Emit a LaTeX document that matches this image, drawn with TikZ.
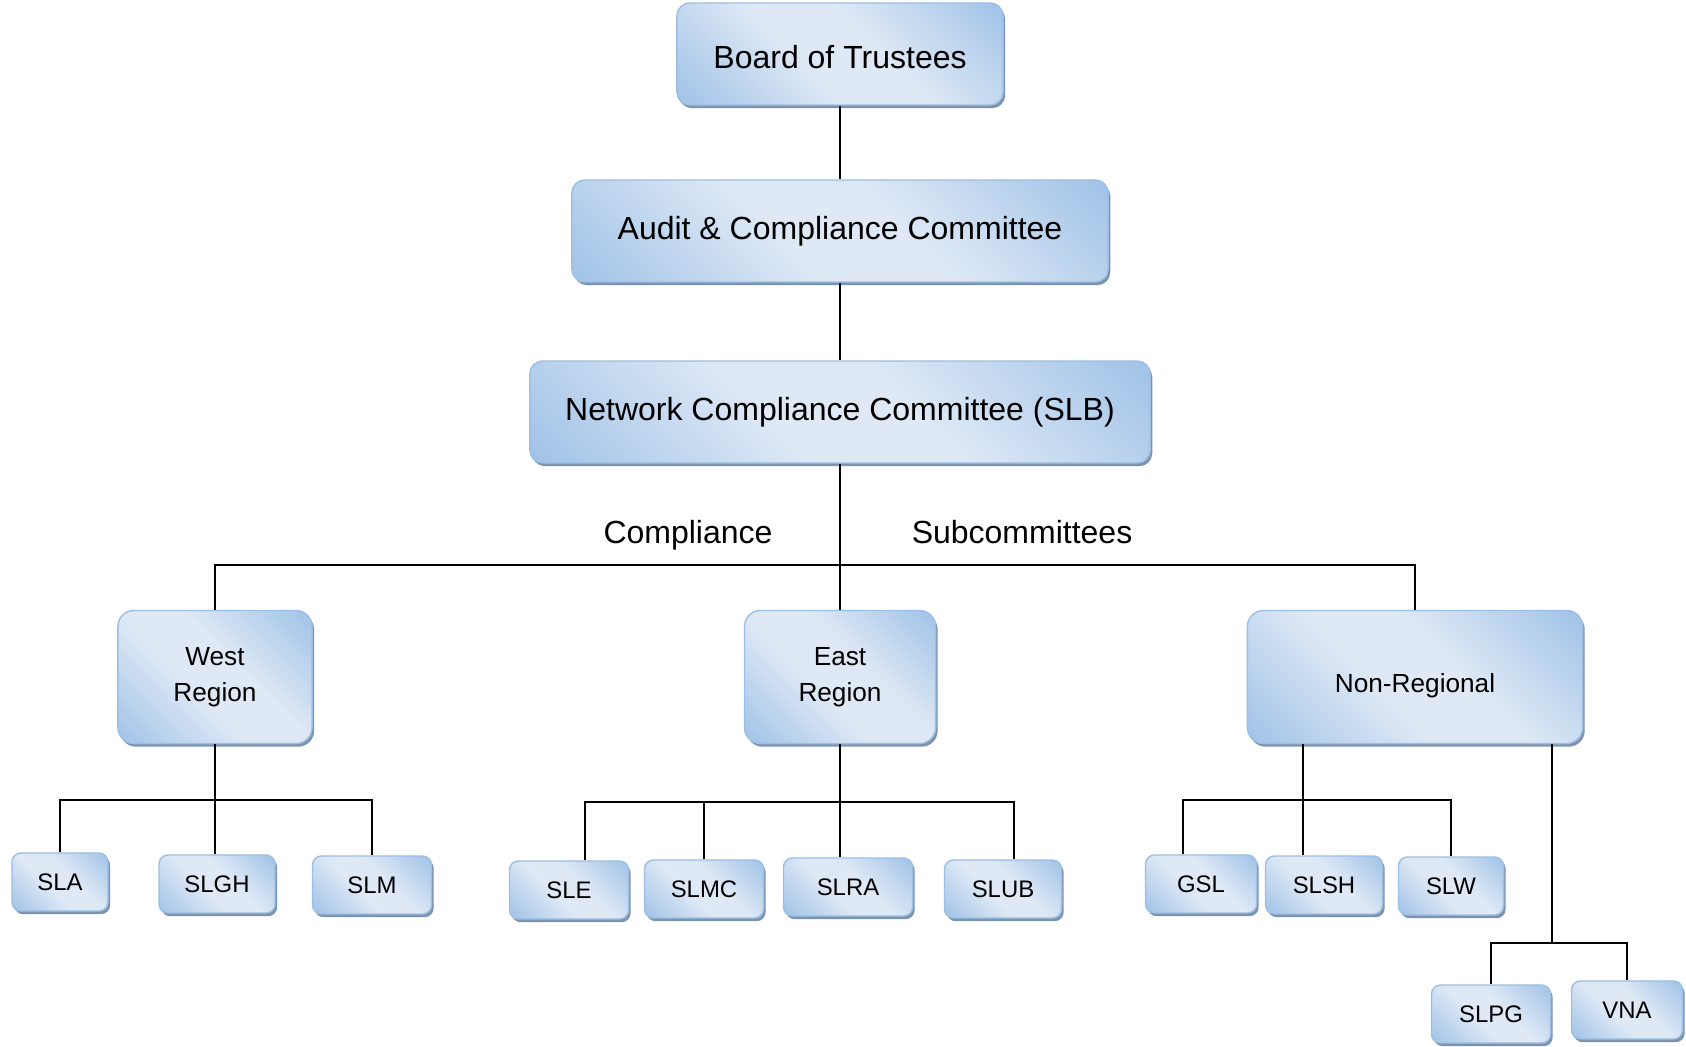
\documentclass[tikz,border=0pt]{standalone}
\usepackage{fontspec}
\setmainfont{Liberation Sans}
\usetikzlibrary{shadows}
\definecolor{boxdark}{HTML}{9CC0E6}
\definecolor{boxlight}{HTML}{DFE9F6}
\definecolor{boxedge}{HTML}{9CBFE3}
\definecolor{boxshadow}{HTML}{7C93AE}
\pgfdeclareverticalshading{orgshade}{100bp}{color(0bp)=(boxdark); color(13bp)=(boxdark);
	color(43bp)=(boxlight); color(57bp)=(boxlight); color(87bp)=(boxdark); color(100bp)=(boxdark)}
\begin{document}
\begin{tikzpicture}[
			x=0.01cm, y=-0.01cm,
			orgbox/.style={rectangle, rounded corners=1.3mm, draw=boxedge, line width=0.4pt,
					shading=orgshade, shading angle=-45,
					drop shadow={shadow xshift=0.6pt, shadow yshift=-0.9pt, fill=boxshadow, opacity=1},
					inner sep=0pt, align=center},
			topbox/.style={orgbox, minimum height=10.2mm, font=\fontsize{9.1}{11}\selectfont},
			regionbox/.style={orgbox, rounded corners=1.6mm, minimum height=13.3mm, font=\fontsize{7.45}{10.1}\selectfont},
			subbox/.style={orgbox, rounded corners=0.9mm, minimum height=5.8mm, font=\fontsize{6.8}{8}\selectfont},
			link/.style={draw=black, line width=0.65pt}
		]
		\useasboundingbox (0,0) rectangle (1686,1046);
		% top of the chart
		\node[topbox, minimum width=32.6mm] (board) at (840,54) {\raisebox{-0.3mm}[\height][\depth]{Board of Trustees}};
		\node[topbox, minimum width=53.6mm] (audit) at (840,231) {Audit \& Compliance Committee};
		\node[topbox, minimum width=62mm] (network) at (840,412) {Network Compliance Committee (SLB)};
		\node[font=\fontsize{9.1}{11}\selectfont, anchor=base] (lblcomp) at (688,543) {Compliance};
		\node[font=\fontsize{9.1}{11}\selectfont, anchor=base] (lblsub) at (1022,543) {Subcommittees};
		% regions
		\node[regionbox, minimum width=19.4mm] (west) at (215,677) {West\\Region};
		\node[regionbox, minimum width=19.1mm] (east) at (840,677) {East\\Region};
		\node[regionbox, minimum width=33.5mm] (nonreg) at (1415,677) {\raisebox{-0.9mm}[\height][\depth]{Non-Regional}};
		% subcommittees
		\node[subbox, minimum width=9.6mm] (sla) at (60,882) {SLA};
		\node[subbox, minimum width=11.6mm] (slgh) at (217,884) {SLGH};
		\node[subbox, minimum width=11.9mm] (slm) at (372,885) {SLM};
		\node[subbox, minimum width=11.9mm] (sle) at (569,890) {SLE};
		\node[subbox, minimum width=11.9mm] (slmc) at (704,889) {SLMC};
		\node[subbox, minimum width=12.9mm] (slra) at (848,887) {SLRA};
		\node[subbox, minimum width=11.7mm] (slub) at (1003,889) {SLUB};
		\node[subbox, minimum width=11.1mm] (gsl) at (1201,884) {GSL};
		\node[subbox, minimum width=11.7mm] (slsh) at (1324,885) {SLSH};
		\node[subbox, minimum width=10.5mm] (slw) at (1451,886) {SLW};
		\node[subbox, minimum width=11.9mm] (slpg) at (1491,1014) {SLPG};
		\node[subbox, minimum width=11.1mm] (vna) at (1627,1010) {VNA};
		% bus points
		\coordinate (topbus) at (840,565);
		\coordinate (westbus) at (215,800);
		\coordinate (eastbus) at (840,802);
		\coordinate (nrbus) at (1303,800);
		\coordinate (nrbustwo) at (1552,943);
		% connectors
		\draw[link] (board) -- (audit);
		\draw[link] (audit) -- (network);
		\draw[link] (network) -- (east);
		\draw[link] (west.north) |- (topbus) -| (nonreg.north);
		\draw[link] (west.south) -- (west.south |- slgh.north);
		\draw[link] (sla.north) |- (westbus) -| (slm.north);
		\draw[link] (east.south) -- (east.south |- slra.north);
		\draw[link] ([xshift=1.6mm]sle.north) |- (eastbus) -| ([xshift=1.1mm]slub.north);
		\draw[link] (slmc.north) -- (slmc.north |- eastbus);
		\draw[link] (nrbus |- nonreg.south) -- (nrbus |- slsh.north);
		\draw[link] ([xshift=-1.8mm]gsl.north) |- (nrbus) -| (slw.north);
		\draw[link] (nrbustwo |- nonreg.south) -- (nrbustwo);
		\draw[link] (slpg.north) |- (nrbustwo) -| (vna.north);
	\end{tikzpicture}
\end{document}
